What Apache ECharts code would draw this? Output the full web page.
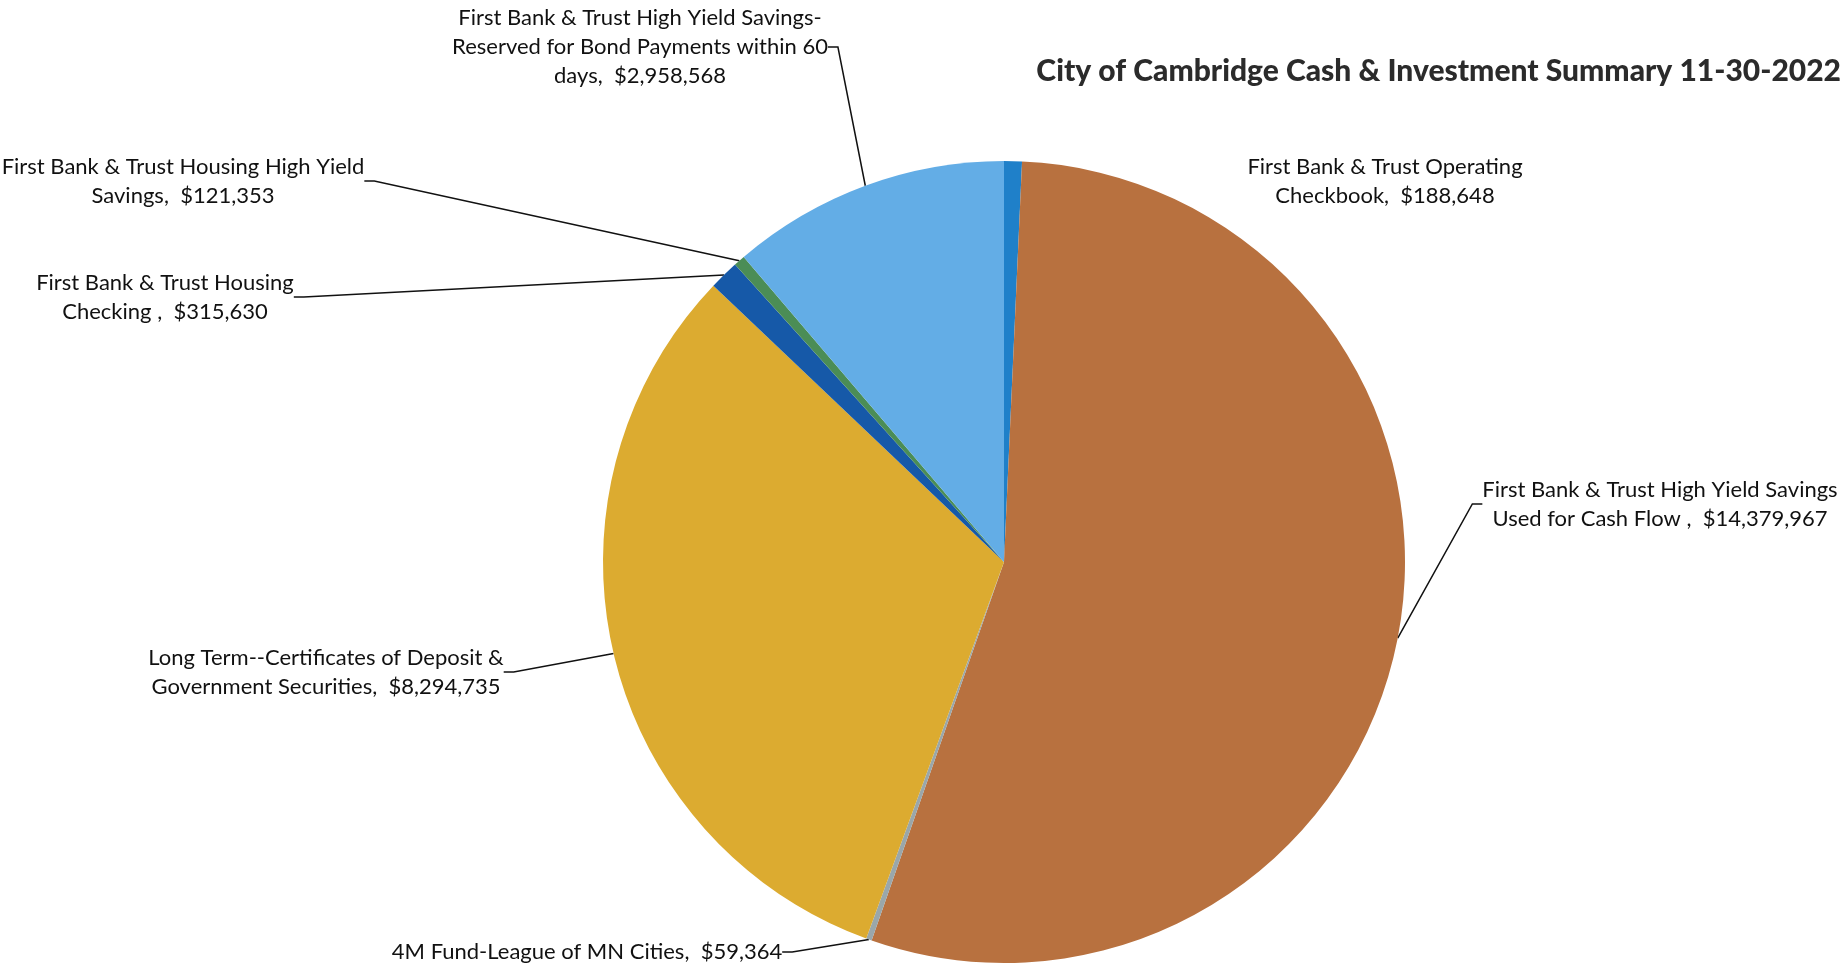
<!DOCTYPE html>
<html>
<head>
<meta charset="utf-8">
<script src="https://cdn.jsdelivr.net/npm/echarts@6/dist/echarts.min.js"></script>
<style>
html,body{margin:0;padding:0;background:#fff;}
#main{width:1848px;height:964px;}
</style>
</head>
<body>
<div id="main"></div>
<script>
const titleText = 'City of Cambridge Cash & Investment Summary 11-30-2022';
const categories = [
  'First Bank & Trust Operating\nCheckbook',
  'First Bank & Trust High Yield Savings\nUsed for Cash Flow ',
  '4M Fund-League of MN Cities',
  'Long Term--Certificates of Deposit &\nGovernment Securities',
  'First Bank & Trust Housing\nChecking ',
  'First Bank & Trust Housing High Yield\nSavings',
  'First Bank & Trust High Yield Savings-\nReserved for Bond Payments within 60\ndays'
];
const values = [188648, 14379967, 59364, 8294735, 315630, 121353, 2958568];
const colors = ['#1f80c9', '#b8713f', '#9aa7aa', '#dcab30', '#1659a8', '#4b8d56', '#63ade6'];
const showLine = [false, true, true, true, true, true, true];
// label anchor positions (x, y centre of label box)
const labelPos = [
  [1385, 181],
  [1660, 504],
  [587, 952],
  [326, 672],
  [165, 297],
  [183, 181],
  [640, 47]
];

const fmt = v => '$' + v.toLocaleString('en-US');
const chart = echarts.init(document.getElementById('main'));
chart.setOption({
  backgroundColor: '#fff',
  animation: false,
  title: {
    text: titleText,
    right: 2,
    top: 51,
    textStyle: {fontFamily: 'Lato', fontWeight: 900, fontSize: 30, color: '#2b2b2b'}
  },
  series: [{
    type: 'pie',
    center: [1004, 562],
    radius: 401,
    startAngle: 90,
    clockwise: true,
    avoidLabelOverlap: false,
    itemStyle: {borderWidth: 0},
    data: categories.map((c, i) => ({
      name: c, value: values[i],
      itemStyle: {color: colors[i]},
      labelLine: {show: showLine[i]}
    })),
    label: {
      show: true,
      position: 'outside',
      formatter: p => p.name + ',  ' + fmt(p.value),
      fontFamily: 'Lato',
      fontSize: 22,
      lineHeight: 29,
      color: '#111',
      align: 'center'
    },
    labelLine: {show: true, lineStyle: {color: '#111', width: 1.5}, length: 10, length2: 10},
    labelLayout: function (params) {
      const p = labelPos[params.dataIndex];
      return {x: p[0], y: p[1], align: 'center', verticalAlign: 'middle', hideOverlap: false};
    }
  }]
});
</script>
</body>
</html>
